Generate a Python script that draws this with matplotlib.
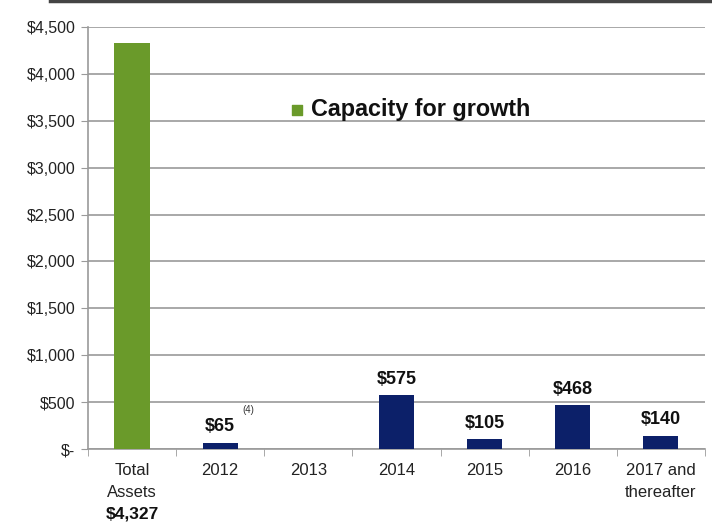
import numpy as np
import matplotlib.pyplot as plt
from matplotlib.lines import Line2D

plt.rcParams['font.family'] = ['Liberation Sans', 'DejaVu Sans']

## Data ##
categories = ['Total\nAssets', '2012', '2013', '2014', '2015', '2016', '2017 and\nthereafter']
values = [4327, 65, 0, 575, 105, 468, 140]
value_labels = ['', '$65', '', '$575', '$105', '$468', '$140']
total_label = '$4,327'
yticks = [0, 500, 1000, 1500, 2000, 2500, 3000, 3500, 4000, 4500]
ytick_labels = ['$-', '$500', '$1,000', '$1,500', '$2,000', '$2,500', '$3,000',
                '$3,500', '$4,000', '$4,500']

green = '#6a9a2a'
navy = '#0c2069'
grid_col = '#9a9a9a'

fig = plt.figure(figsize=(7.12, 5.29), dpi=100)
ax = fig.add_axes([0.1236, 0.1512, 0.8664, 0.7978])

x = np.arange(len(categories))
colors = [green] + [navy] * (len(values) - 1)
ax.bar(x, values, width=0.4, color=colors, zorder=3)

# value labels above the yearly bars
for xi, v, lab in zip(x, values, value_labels):
    if lab:
        ax.text(xi, v + 80, lab, ha='center', va='bottom', fontsize=13,
                fontweight='bold', color='#111111')
ax.text(x[1] + 0.25, values[1] + 300, '(4)', ha='left', va='bottom', fontsize=7,
        color='#333333')

ax.set_xlim(-0.5, len(categories) - 0.5)
ax.set_ylim(0, 4500)
ax.set_yticks(yticks)
ax.set_yticklabels(ytick_labels, fontsize=11.5, color='#222222')
ax.yaxis.grid(True, color=grid_col, linewidth=1.2, zorder=0)

# category labels centred, tick marks on the boundaries
ax.set_xticks(x)
ax.set_xticklabels(categories, fontsize=12, color='#222222', linespacing=1.55)
ax.tick_params(axis='x', length=0, pad=10)
ax.set_xticks(np.arange(-0.5, len(categories)), minor=True)
ax.tick_params(axis='x', which='minor', length=5, color=grid_col, direction='out')
ax.tick_params(axis='y', length=5, color=grid_col, direction='out', pad=4)

for s in ['top', 'right']:
    ax.spines[s].set_visible(False)
for s in ['left', 'bottom']:
    ax.spines[s].set_color(grid_col)
    ax.spines[s].set_linewidth(1.2)

ax.text(x[0], -0.137, total_label, transform=ax.get_xaxis_transform(),
        ha='center', va='top', fontsize=12.5, fontweight='bold', color='#111111')

# legend entry
ax.scatter([1.87], [3620], marker='s', s=45, color=green, zorder=4)
ax.text(2.03, 3620, 'Capacity for growth', ha='left', va='center', fontsize=16.8,
        fontweight='bold', color='#111111')

# dark rule along the top edge
fig.add_artist(Line2D([0.07, 1.0], [0.998, 0.998], color='#444444', linewidth=2.5))

plt.savefig('out.png', dpi=100)
